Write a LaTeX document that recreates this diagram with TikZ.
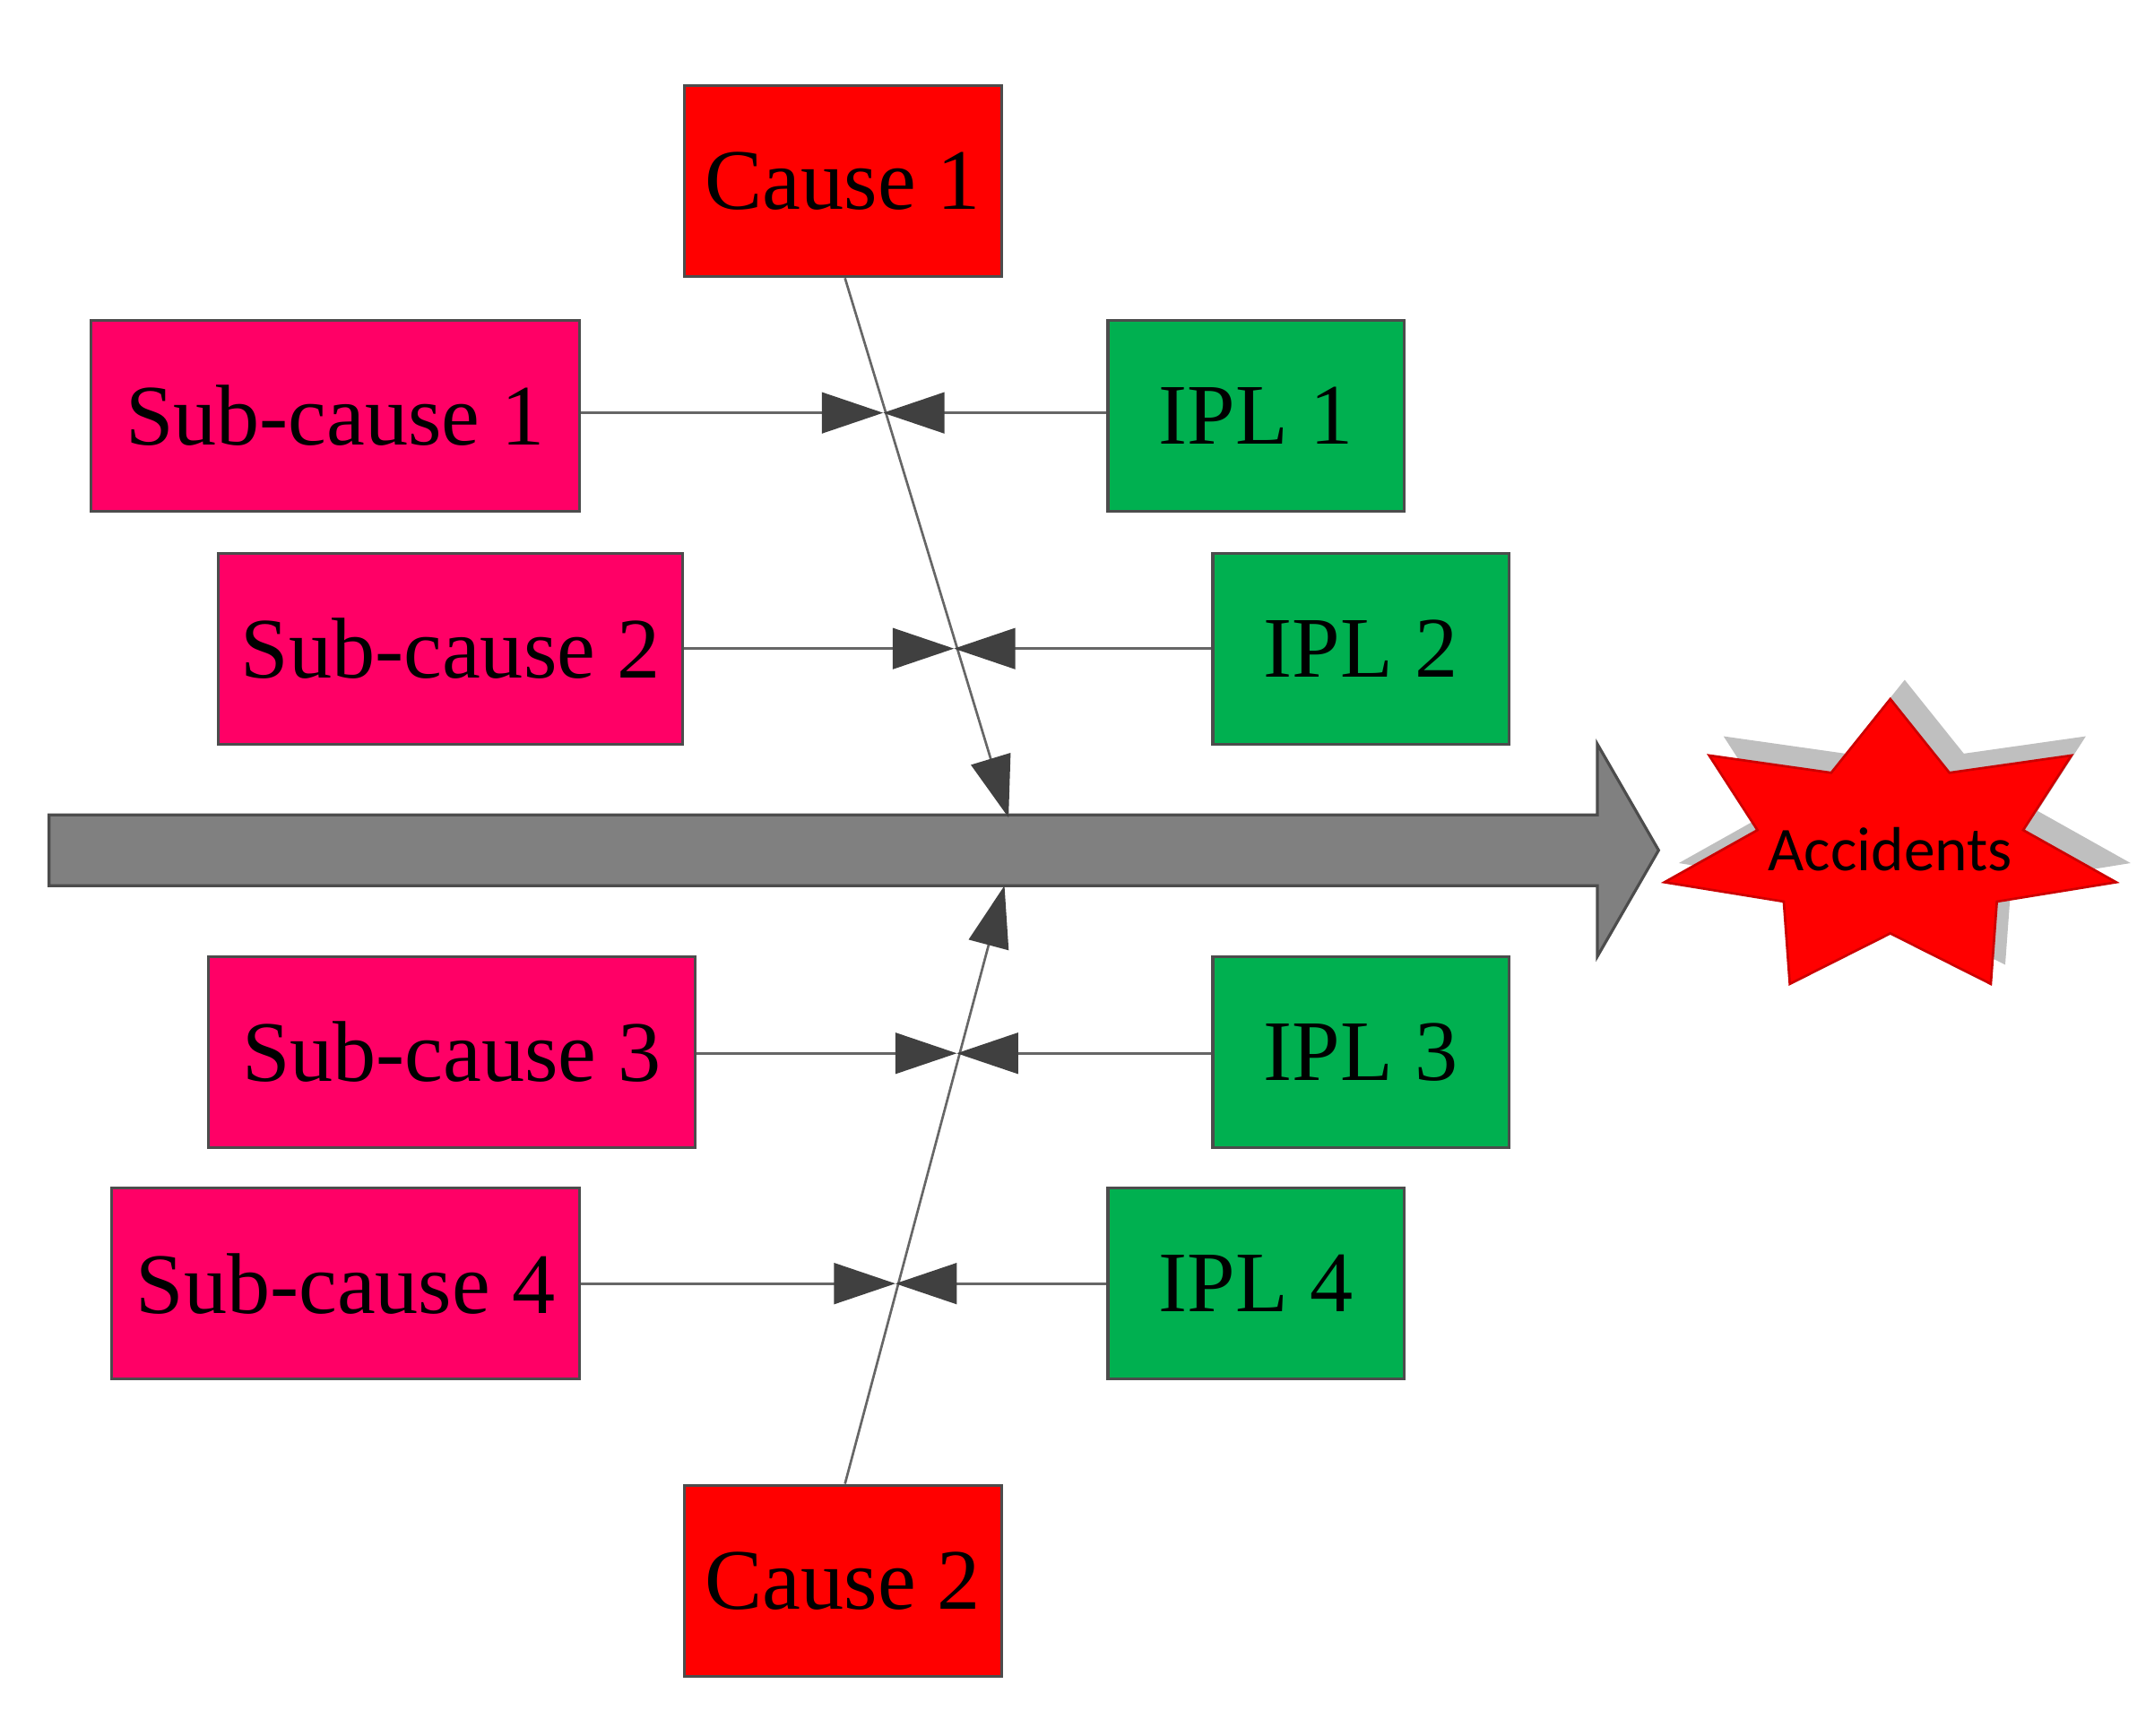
\documentclass[tikz,border=0pt]{standalone}
\usepackage{fontspec}
\setmainfont{Liberation Serif}
\newfontfamily\accfont{Carlito}
\usetikzlibrary{arrows.meta}
\definecolor{cred}{HTML}{FF0000}
\definecolor{cpink}{HTML}{FF0066}
\definecolor{cgreen}{HTML}{00B050}
\begin{document}
\begin{tikzpicture}[x=0.01cm,y=-0.01cm,
 box/.style={draw=black!70,line width=0.6pt,inner sep=0pt,font=\fontsize{18}{20}\selectfont},
 cause/.style={box,fill=cred,minimum width=2.33cm,minimum height=1.4cm},
 sub/.style={box,fill=cpink,minimum height=1.4cm},
 ipl/.style={box,fill=cgreen,minimum width=2.17cm,minimum height=1.4cm},
 con/.style={draw=black!60,line width=0.5pt,-{Triangle[length=0.45cm,width=0.3cm]},arrows={-{Triangle[length=0.45cm,width=0.3cm,color=black!75,fill=black!75]}}}]
\useasboundingbox (0,0) rectangle (1568,1274);
% main arrow
\draw[fill=black!50,draw=black!70,line width=0.6pt] (36,598) -- (1172,598) -- (1172,546) -- (1217,624) -- (1172,702) -- (1172,650) -- (36,650) -- cycle;
% star
\fill[black!25,xshift=3,yshift=4] plot[samples at={0,...,13},variable=\k] ({1387+(mod(\k,2)==0?170:100)*cos(90+\k*180/7)},{623-(mod(\k,2)==0?110:62)*sin(90+\k*180/7)}) -- cycle;
\draw[fill=cred,draw=cred!80!black,line width=0.5pt] plot[samples at={0,...,13},variable=\k] ({1387+(mod(\k,2)==0?170:100)*cos(90+\k*180/7)},{623-(mod(\k,2)==0?110:62)*sin(90+\k*180/7)}) -- cycle;
\node[font=\accfont\fontsize{13}{15}\selectfont] (acc) at (1387,623) {Accidents};
% boxes
\node[cause] (c1) at (618.5,133) {Cause 1};
\node[cause] (c2) at (618.5,1160) {Cause 2};
\node[sub,minimum width=3.58cm] (s1) at (246,305) {Sub-cause 1};
\node[sub,minimum width=3.41cm] (s2) at (330.5,476) {Sub-cause 2};
\node[sub,minimum width=3.57cm] (s3) at (331.5,772) {Sub-cause 3};
\node[sub,minimum width=3.43cm] (s4) at (253.5,942) {Sub-cause 4};
\node[ipl] (i1) at (921.5,305) {IPL 1};
\node[ipl] (i2) at (998.5,476) {IPL 2};
\node[ipl] (i3) at (998.5,772) {IPL 3};
\node[ipl] (i4) at (921.5,942) {IPL 4};
% meeting points
\coordinate (m1) at (648,303);
\coordinate (m2) at (700,476);
\coordinate (m3) at (702,773);
\coordinate (m4) at (657,942);
\coordinate (t1) at (740,600);
\coordinate (t2) at (737,650);
\draw[con] (c1.south) ++(1.5,0) coordinate (c1s) (c1s) -- (t1);
\draw[con] (c2.north) ++(1.5,0) coordinate (c2n) (c2n) -- (t2);
\foreach \s/\i/\m in {s1/i1/m1,s2/i2/m2,s3/i3/m3,s4/i4/m4}{
 \draw[con] (\s.east |- \m) -- (\m);
 \draw[con] (\i.west |- \m) -- (\m);
}
\end{tikzpicture}
\end{document}
